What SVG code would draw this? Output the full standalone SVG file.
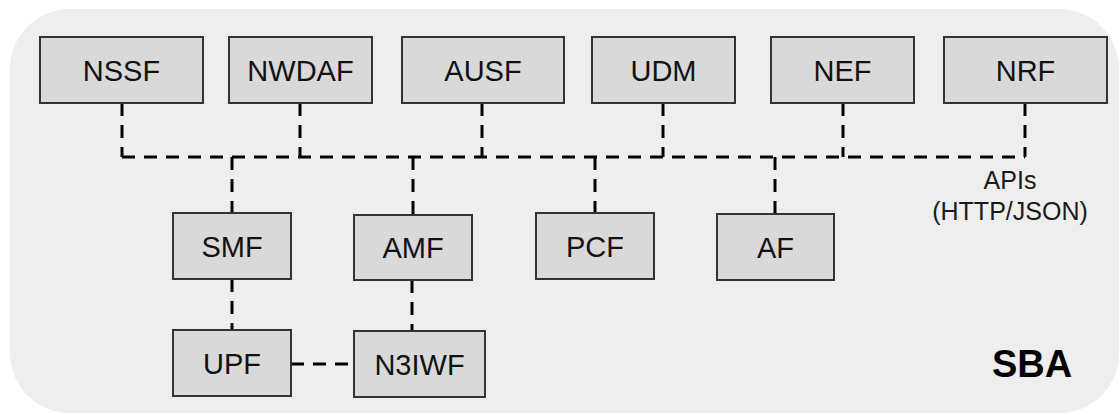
<svg xmlns="http://www.w3.org/2000/svg" width="1120" height="415" viewBox="0 0 1120 415">
<style>
.bg{fill:#eeeeee;stroke:none}
.box{fill:#d9d9d9;stroke:#333333;stroke-width:2}
.lbl{font-family:"Liberation Sans",Arial,sans-serif;font-size:29px;fill:#111111;text-anchor:middle}
.api{font-family:"Liberation Sans",Arial,sans-serif;font-size:25px;fill:#1a1a1a;text-anchor:middle}
.sba{font-family:"Liberation Sans",Arial,sans-serif;font-size:38px;font-weight:bold;fill:#000000;text-anchor:middle}
.dash{fill:none;stroke:#000000;stroke-width:3;stroke-dasharray:13 9}
</style>
<rect class="bg" x="10" y="9" width="1109" height="404" rx="60" ry="60"/>
<g id="connectors">
<path class="dash" d="M122 103 V157"/>
<path class="dash" d="M300 103 V157"/>
<path class="dash" d="M482 103 V157"/>
<path class="dash" d="M663 103 V157"/>
<path class="dash" d="M843 103 V157"/>
<path class="dash" d="M1025 103 V157"/>
<path class="dash" d="M122 157 H1025"/>
<path class="dash" d="M232 157 V213"/>
<path class="dash" d="M413 157 V215"/>
<path class="dash" d="M595 157 V213"/>
<path class="dash" d="M775 157 V214"/>
<path class="dash" d="M232 279 V330"/>
<path class="dash" d="M412 280 V331"/>
<path class="dash" d="M291 364 H354"/>
</g>
<g id="NSSF"><rect class="box" x="40" y="37" width="163" height="66"/><text class="lbl" x="121.5" y="81">NSSF</text></g>
<g id="NWDAF"><rect class="box" x="229" y="37" width="143" height="66"/><text class="lbl" x="300.5" y="81">NWDAF</text></g>
<g id="AUSF"><rect class="box" x="402" y="37" width="162" height="66"/><text class="lbl" x="483" y="81">AUSF</text></g>
<g id="UDM"><rect class="box" x="592" y="37" width="143" height="66"/><text class="lbl" x="663.5" y="81">UDM</text></g>
<g id="NEF"><rect class="box" x="771" y="37" width="143" height="66"/><text class="lbl" x="842.5" y="81">NEF</text></g>
<g id="NRF"><rect class="box" x="944" y="37" width="163" height="66"/><text class="lbl" x="1025.5" y="81">NRF</text></g>
<g id="SMF"><rect class="box" x="173" y="213" width="118" height="66"/><text class="lbl" x="232" y="256.5">SMF</text></g>
<g id="AMF"><rect class="box" x="354" y="215" width="118" height="65"/><text class="lbl" x="413" y="258">AMF</text></g>
<g id="PCF"><rect class="box" x="536" y="213" width="118" height="66"/><text class="lbl" x="595" y="256.5">PCF</text></g>
<g id="AF"><rect class="box" x="717" y="214" width="117" height="66"/><text class="lbl" x="775.5" y="257.5">AF</text></g>
<g id="UPF"><rect class="box" x="173" y="330" width="118" height="66"/><text class="lbl" x="232" y="373.5">UPF</text></g>
<g id="N3IWF"><rect class="box" x="354" y="331" width="131" height="66"/><text class="lbl" x="419.5" y="374.5">N3IWF</text></g>
<g id="labels">
<text class="api" x="1010" y="189">APIs</text>
<text class="api" x="1010" y="220">(HTTP/JSON)</text>
<text class="sba" x="1032" y="377">SBA</text>
</g>
</svg>
